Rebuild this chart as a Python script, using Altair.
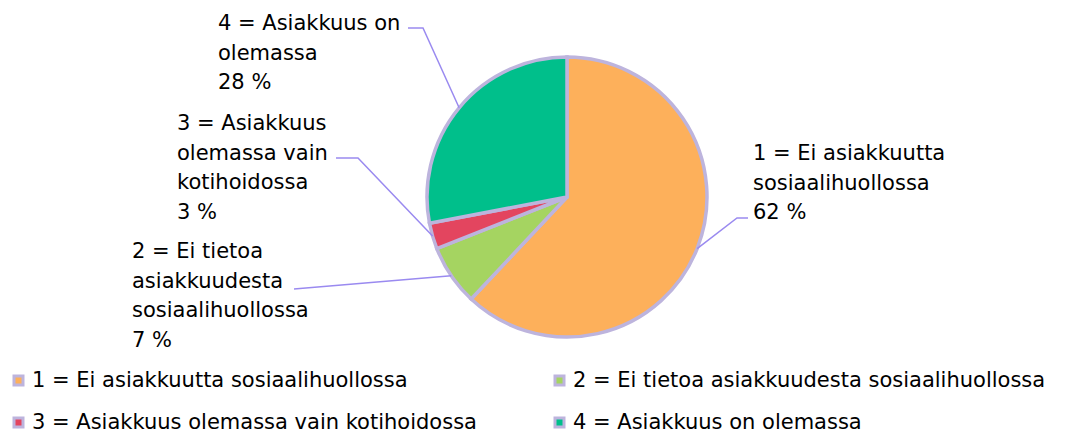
import altair as alt
import pandas as pd
import numpy as np

# ---- data ----
categories = [
    "1 = Ei asiakkuutta sosiaalihuollossa",
    "2 = Ei tietoa asiakkuudesta sosiaalihuollossa",
    "3 = Asiakkuus olemassa vain kotihoidossa",
    "4 = Asiakkuus on olemassa",
]
values = [62, 7, 3, 28]
label_lines = [
    ["1 = Ei asiakkuutta", "sosiaalihuollossa"],
    ["2 = Ei tietoa", "asiakkuudesta", "sosiaalihuollossa"],
    ["3 = Asiakkuus", "olemassa vain", "kotihoidossa"],
    ["4 = Asiakkuus on", "olemassa"],
]
colors = ["#FDB05B", "#A5D461", "#E3455F", "#00BF8B"]

# ---- layout / style ----
W, H = 1066, 423
CX, CY, R = 559, 189, 140
BORDER = "#BDB4DD"
LEADER = "#9A8AF0"
FONT = "DejaVu Sans"
FS = 21
label_pos = [(745, 152), (124, 250), (169, 122), (210, 22)]  # left x, first baseline
leader_pts = [
    [(740, 210), (729, 210)],
    [(286, 281)],
    [(328, 150), (350, 150)],
    [(400, 20), (415, 20)],
]

df = pd.DataFrame({"category": categories, "value": values, "idx": range(len(values))})

total = float(sum(values))
cum = np.cumsum(values)
rows = []
for i, cat in enumerate(categories):
    mid = (cum[i] - values[i] / 2.0) / total * 2 * np.pi
    ex = CX + R * np.sin(mid)
    ey = CY - R * np.cos(mid)
    pts = leader_pts[i] + [(ex, ey)]
    for s, (px, py) in enumerate(pts):
        rows.append({"category": cat, "seq": s, "x": px, "y": py})
lines_df = pd.DataFrame(rows)

txt_df = pd.DataFrame({
    "category": categories,
    "text": ["\n".join(l + [f"{v} %"]) for l, v in zip(label_lines, values)],
    "x": [p[0] for p in label_pos],
    "y": [p[1] for p in label_pos],
})

pie = alt.Chart(df).mark_arc(stroke=BORDER, strokeWidth=3.5, radius=R).encode(
    theta=alt.Theta("value:Q", stack=True),
    color=alt.Color(
        "category:N",
        scale=alt.Scale(domain=categories, range=colors),
        sort=categories,
        legend=alt.Legend(
            title=None,
            orient="none",
            direction="horizontal",
            legendX=0,
            legendY=362,
            columns=2,
            columnPadding=72,
            rowPadding=20,
            symbolType="square",
            symbolSize=81,
            symbolStrokeWidth=3,
            symbolStrokeColor=BORDER,
            symbolOpacity=1,
            labelFont=FONT,
            labelFontSize=FS,
            labelColor="#000000",
            labelLimit=1000,
            labelOffset=3,
            padding=0,
        ),
    ),
    order=alt.Order("idx:Q"),
    x=alt.value(CX),
    y=alt.value(CY),
)

leaders = alt.Chart(lines_df).mark_line(color=LEADER, strokeWidth=1.5).encode(
    x=alt.X("x:Q", scale=None, axis=None),
    y=alt.Y("y:Q", scale=None, axis=None),
    detail="category:N",
    order="seq:Q",
)

labels = alt.Chart(txt_df).mark_text(
    align="left", baseline="alphabetic", font=FONT, fontSize=FS,
    lineHeight=29.5, lineBreak="\n", color="#000000",
).encode(
    x=alt.X("x:Q", scale=None, axis=None),
    y=alt.Y("y:Q", scale=None, axis=None),
    text="text:N",
)

chart = alt.layer(pie, leaders, labels).properties(
    width=W, height=H, padding=0,
    autosize=alt.AutoSizeParams(type="none"),
).configure(background="white").configure_view(stroke=None)

chart.save("out.html", embed_options={"renderer": "svg", "actions": False})
